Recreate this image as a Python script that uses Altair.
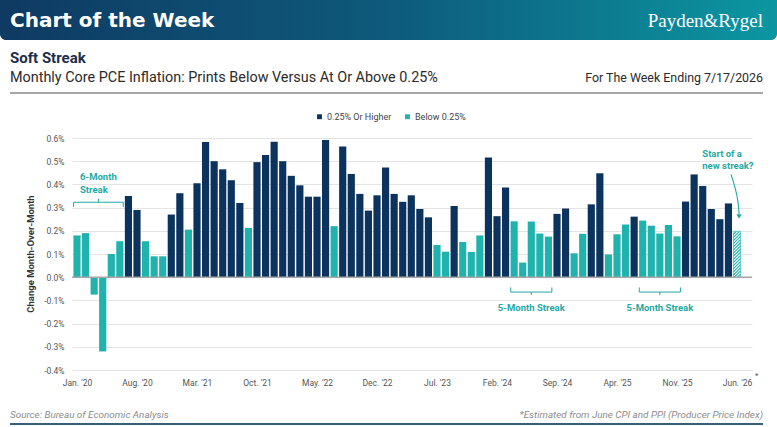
import json
import altair as alt
import pandas as pd

# ---------------- data ----------------
values = [0.18, 0.19, -0.075, -0.32, 0.10, 0.155, 0.35, 0.29, 0.155, 0.09, 0.09, 0.27,
          0.362, 0.205, 0.405, 0.583, 0.50, 0.465, 0.418, 0.32, 0.212, 0.496, 0.527, 0.584,
          0.50, 0.437, 0.396, 0.347, 0.347, 0.591, 0.22, 0.563, 0.445, 0.359, 0.287, 0.353,
          0.473, 0.359, 0.325, 0.353, 0.294, 0.258, 0.139, 0.11, 0.307, 0.152, 0.109, 0.18,
          0.516, 0.263, 0.387, 0.241, 0.063, 0.24, 0.188, 0.175, 0.273, 0.296, 0.103, 0.187,
          0.314, 0.448, 0.098, 0.185, 0.227, 0.261, 0.244, 0.222, 0.188, 0.225, 0.176, 0.326,
          0.443, 0.393, 0.294, 0.25, 0.318, 0.198]
estimated = [False] * (len(values) - 1) + [True]
tick_idx = [0, 7, 14, 21, 28, 35, 42, 49, 56, 63, 70, 77]
tick_labels = ["Jan. '20", "Aug. '20", "Mar. '21", "Oct. '21", "May. '22", "Dec. '22",
               "Jul. '23", "Feb. '24", "Sep. '24", "Apr. '25", "Nov. '25", "Jun. '26"]
y_ticks = [-0.4, -0.3, -0.2, -0.1, 0.0, 0.1, 0.2, 0.3, 0.4, 0.5, 0.6]
threshold = 0.25
series_names = ["0.25% Or Higher", "Below 0.25%"]
streaks = [(0, 5, "6-Month Streak", "above"), (51, 55, "5-Month Streak", "below"),
           (66, 70, "5-Month Streak", "below")]

NAVY = "#0b335e"
TEAL = "#20b2ac"
TEAL_TXT = "#1fa9a4"
FONT = "Roboto"
HALF = 0.418

# ---------------- tables ----------------
df = pd.DataFrame({"idx": range(len(values)), "v": values, "est": estimated})
df["x0"] = df["idx"] - HALF
df["x1"] = df["idx"] + HALF
df["cat"] = [series_names[0] if v >= threshold else series_names[1] for v in values]
bars_df = df[~df["est"]]
est_df = df[df["est"]]

# hatch segments for the estimated bar
hatch_rows = []
for _, r in est_df.iterrows():
    top = r["v"]
    dy = 0.031
    step = 0.0135
    y0 = -dy
    while y0 < top:
        xa, ya, xb, yb = r["x0"], y0, r["x1"], y0 + dy
        if ya < 0:
            xa = r["x0"] + (0 - ya) / dy * (r["x1"] - r["x0"])
            ya = 0
        if yb > top:
            xb = r["x0"] + (top - y0) / dy * (r["x1"] - r["x0"])
            yb = top
        hatch_rows.append({"x": xa, "x2": xb, "y": ya, "y2": yb})
        y0 += step
hatch_df = pd.DataFrame(hatch_rows)

# braces
brace_rows = []
brace_text = []
for s, e, lab, pos in streaks:
    xl, xr, xm = s - 0.4, e + 0.4, (s + e) / 2
    if pos == "above":
        lv, endv, midv = 0.323, 0.303, 0.339
        brace_text += [{"x": s + 0.35, "y": 0.433, "t": lab.split(" ")[0]},
                       {"x": s + 0.35, "y": 0.374, "t": lab.split(" ")[1]}]
    else:
        lv, endv, midv = -0.064, -0.044, -0.077
    brace_rows += [{"x": xl, "x2": xr, "y": lv, "y2": lv},
                   {"x": xl, "x2": xl, "y": lv, "y2": endv},
                   {"x": xr, "x2": xr, "y": lv, "y2": endv},
                   {"x": xm, "x2": xm, "y": lv, "y2": midv}]
brace_df = pd.DataFrame(brace_rows)
center_text_df = pd.DataFrame([{"x": (s + e) / 2, "y": -0.132, "t": lab}
                               for s, e, lab, pos in streaks if pos == "below"])
left_text_df = pd.DataFrame(brace_text + [
    {"x": 72.95, "y": 0.533, "t": "Start of a"},
    {"x": 72.95, "y": 0.478, "t": "new streak?"}])
arrow_df = pd.DataFrame({"x": [76.3, 76.85, 77.15, 77.24], "y": [0.443, 0.38, 0.322, 0.272],
                         "o": [0, 1, 2, 3]})
arrow_head = pd.DataFrame({"x": [77.24], "y": [0.262]})
zero_df = pd.DataFrame({"z": [0.0]})

# ---------------- scales / axes ----------------
xs = alt.Scale(domain=[-0.583, 78.75], nice=False, zero=False)
ys = alt.Scale(domain=[-0.4, 0.6], nice=False, zero=False)
label_expr = json.dumps(tick_labels) + "[round(datum.value / 7)]"
xaxis = alt.Axis(values=tick_idx, labelExpr=label_expr, title=None, grid=False, domain=False,
                 ticks=False, labelFontSize=8.5, labelColor="#555555", labelPadding=8,
                 labelFont=FONT, labelOverlap=False, labelFlush=False)
yaxis = alt.Axis(values=y_ticks,
                 labelExpr="(datum.value < -0.0001 ? '-' : '') + format(abs(datum.value), '.1f') + '%'",
                 title=None, grid=True, gridColor="#e4e4e4", gridWidth=1, domain=False, ticks=False,
                 labelPadding=8, labelFontSize=8.5, labelColor="#555555", labelFont=FONT,
                 labelOverlap=False, labelFlush=False)


def X(f):
    return alt.X(f, type="quantitative", scale=xs, axis=xaxis)


def Y(f):
    return alt.Y(f, type="quantitative", scale=ys, axis=yaxis)


one = pd.DataFrame({"a": [0]})

bars = alt.Chart(bars_df).mark_bar().encode(
    x=X("x0"), x2="x1", y=Y("v"), y2=alt.datum(0),
    color=alt.Color("cat:N", scale=alt.Scale(domain=series_names, range=[NAVY, TEAL]),
                    legend=alt.Legend(title=None, orient="none", direction="horizontal",
                                      legendX=243, legendY=-26, symbolType="square",
                                      symbolSize=24, symbolStrokeWidth=0, labelFontSize=9,
                                      labelColor="#444444", labelFont=FONT, labelOffset=3,
                                      columnPadding=11)),
)
est_bar = alt.Chart(est_df).mark_bar(fill="white", stroke=TEAL, strokeWidth=0.6).encode(
    x=X("x0"), x2="x1", y=Y("v"), y2=alt.datum(0))
hatch = alt.Chart(hatch_df).mark_rule(color=TEAL, strokeWidth=1.1).encode(
    x=X("x"), x2="x2", y=Y("y"), y2="y2")
zero = alt.Chart(zero_df).mark_rule(color="#a6a6a6", strokeWidth=1.5).encode(y=Y("z"))
braces = alt.Chart(brace_df).mark_rule(color=TEAL_TXT, strokeWidth=1).encode(
    x=X("x"), x2="x2", y=Y("y"), y2="y2")
ctext = alt.Chart(center_text_df).mark_text(font=FONT, fontWeight="bold", fontSize=9.5,
                                            color=TEAL_TXT, align="center", baseline="middle").encode(
    x=X("x"), y=Y("y"), text="t:N")
ltext = alt.Chart(left_text_df).mark_text(font=FONT, fontWeight="bold", fontSize=9.5,
                                          color=TEAL_TXT, align="left", baseline="middle").encode(
    x=X("x"), y=Y("y"), text="t:N")
arrow = alt.Chart(arrow_df).mark_line(color=TEAL_TXT, strokeWidth=1.1, interpolate="basis").encode(
    x=X("x"), y=Y("y"), order="o:Q")
ahead = alt.Chart(arrow_head).mark_point(shape="triangle-down", filled=True, size=28,
                                         color=TEAL_TXT, opacity=1).encode(x=X("x"), y=Y("y"))

# ---------------- decorations (pixel positions relative to plot origin 72,138) ----------------
grad = alt.Gradient(gradient="linear", x1=0, x2=1, y1=0, y2=0,
                    stops=[alt.GradientStop(color="#0f3a62", offset=0),
                           alt.GradientStop(color="#0e5a7c", offset=0.5),
                           alt.GradientStop(color="#0c96a2", offset=1)])
banner = alt.Chart(one).mark_rect(color=grad, cornerRadius=6).encode(
    x=alt.value(-72), x2=alt.value(705), y=alt.value(-170), y2=alt.value(-98))


def txt(s, x, y, size, color, align="left", weight="normal", font=FONT, style="normal"):
    return alt.Chart(one).mark_text(text=s, fontSize=size, color=color, align=align,
                                    baseline="alphabetic", fontWeight=weight, font=font,
                                    fontStyle=style).encode(x=alt.value(x), y=alt.value(y))


t_cotw = txt("Chart of the Week", -62, -111, 20, "white", weight="bold", font="DejaVu Sans")
t_logo = txt("Payden&Rygel", 691, -111, 19, "white", align="right", font="Liberation Serif")
t_title = txt("Soft Streak", -62, -75, 15, "#1d2d4a", weight="bold")
t_sub = txt("Monthly Core PCE Inflation: Prints Below Versus At Or Above 0.25%", -62, -56, 14.4, "#2b2b2b")
t_week = txt("For The Week Ending 7/17/2026", 691, -56, 12.4, "#2b2b2b", align="right")
top_rule = alt.Chart(one).mark_rule(color="#8a8a8a", strokeWidth=1.5).encode(
    x=alt.value(-62), x2=alt.value(691), y=alt.value(-45))
t_src = txt("Source: Bureau of Economic Analysis", -62, 280, 9.9, "#8c8c8c", style="italic")
t_note = txt("*Estimated from June CPI and PPI (Producer Price Index)", 691, 280, 9.9, "#8c8c8c",
             align="right", style="italic")
bot_rule = alt.Chart(one).mark_rule(color="#36607a", strokeWidth=2).encode(
    x=alt.value(-62), x2=alt.value(691), y=alt.value(286))
t_star = txt("*", 683, 240, 8, "#555555")
y_title = alt.Chart(one).mark_text(text="Change Month-Over-Month", fontSize=9.5, color="#333333",
                                   fontWeight="bold", font=FONT, angle=270, align="center",
                                   baseline="middle").encode(x=alt.value(-41), y=alt.value(116))

chart = alt.layer(
    bars, est_bar, hatch, zero, braces, ctext, ltext, arrow, ahead,
    banner, t_cotw, t_logo, t_title, t_sub, t_week, top_rule, t_src, t_note, bot_rule, t_star, y_title,
).properties(
    width=680, height=232,
    autosize=alt.AutoSizeParams(type="none"),
    padding={"left": 72, "top": 138, "right": 25, "bottom": 57},
    background="white",
).configure_view(stroke=None)

chart.save("out.html", embed_options={"renderer": "svg", "actions": False})
